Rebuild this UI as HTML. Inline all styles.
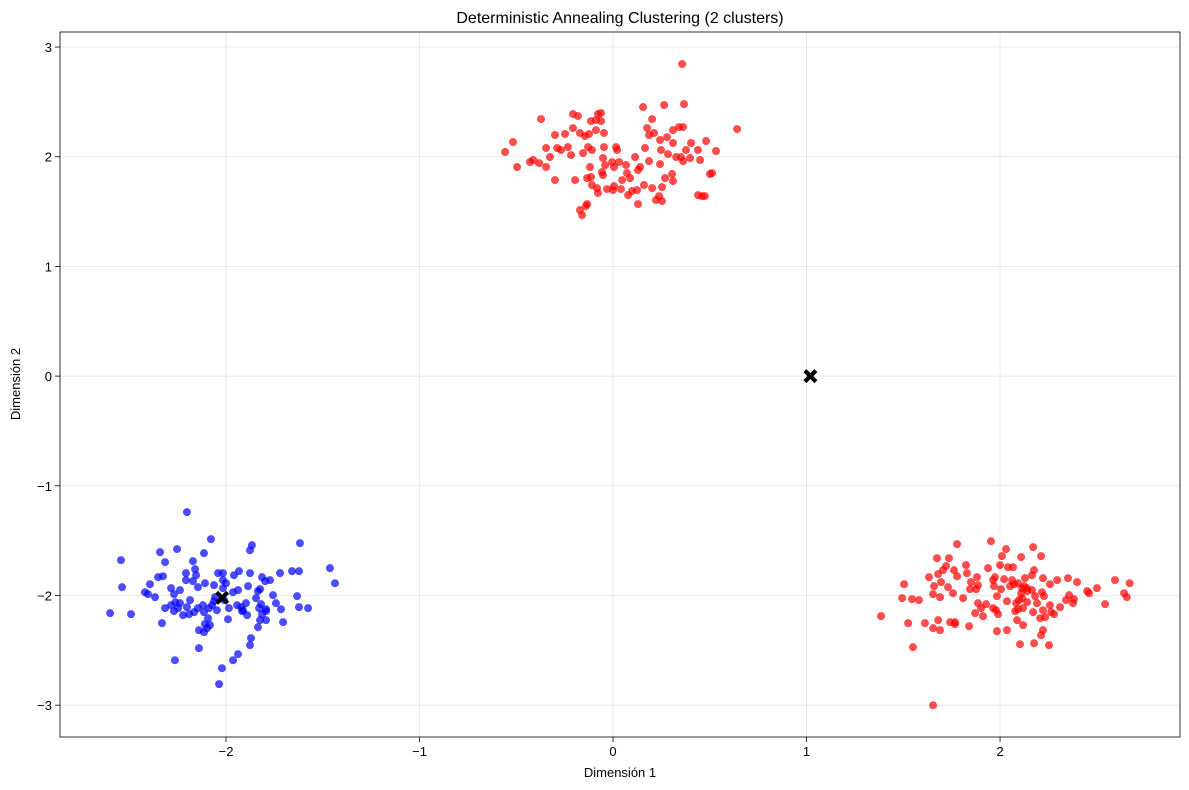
<!DOCTYPE html>
<html><head><meta charset="utf-8"><style>
body{margin:0;background:#fff;}
svg{display:block;font-family:"Liberation Sans",sans-serif;}
</style></head><body>
<svg id="chart" width="1189" height="790">
<rect width="1189" height="790" fill="#fff"/>
<text x="620" y="23" text-anchor="middle" font-size="16">Deterministic Annealing Clustering (2 clusters)</text>
<g id="grid"></g><g id="points"></g><g id="axes"></g>
<text x="620" y="777" text-anchor="middle" font-size="13">Dimensión 1</text>
<text x="20" y="384" text-anchor="middle" font-size="13" transform="rotate(-90 20 384)">Dimensión 2</text>
</svg>
<script>
const xTicks=[-2,-1,0,1,2];
const yTicks=[-3,-2,-1,0,1,2,3];
const redX=[0.357,-0.372,-0.207,-0.181,-0.078,-0.062,0.155,0.264,0.367,0.641,-0.558,-0.517,-0.429,-0.496,-0.346,-0.289,-0.269,-0.248,-0.300,-0.207,-0.171,-0.124,-0.088,-0.062,-0.088,-0.114,-0.047,-0.047,-0.109,-0.129,-0.145,-0.155,-0.217,-0.233,-0.326,-0.382,-0.346,-0.413,-0.300,-0.196,-0.119,-0.114,-0.109,-0.083,-0.052,-0.041,-0.052,-0.005,0.021,0.016,0.005,0.031,0.067,0.072,0.114,0.140,0.186,0.165,0.186,0.176,0.202,0.212,0.243,0.248,0.279,0.284,0.326,0.310,0.310,0.341,0.362,0.351,0.362,0.377,0.403,0.439,0.481,0.501,0.532,0.305,0.310,0.269,0.253,0.238,0.253,0.222,0.202,0.160,0.124,0.098,0.129,0.078,0.041,0.005,0,-0.031,-0.078,-0.134,-0.140,-0.171,-0.160,0.439,0.460,0.475,0.512,-0.134,0.047,0.088,0.129,-0.057,0.243,0.398,0.450,
1.778,1.953,2.031,2.010,2.171,1.674,1.736,1.824,1.721,1.705,1.680,1.633,1.659,1.695,1.762,1.778,1.829,1.881,1.850,1.886,1.974,1.964,2.021,2.062,2.093,2.067,2.109,2.041,2.000,1.938,2.212,2.222,2.165,2.176,2.129,2.072,2.052,2.124,2.165,2.181,2.140,2.140,2.114,2.109,2.217,2.258,2.295,2.351,2.398,2.450,2.501,2.594,2.641,2.670,2.655,2.382,2.341,2.227,2.191,2.222,2.114,2.083,2.036,1.984,2.005,1.969,1.876,1.845,1.809,1.757,1.731,1.690,1.654,1.581,1.545,1.494,1.504,1.385,1.525,1.550,1.612,1.654,1.690,1.767,1.767,1.840,1.871,1.902,1.886,1.928,1.979,1.964,2.078,2.093,2.119,2.088,2.119,2.207,2.264,2.279,2.222,2.176,2.103,2.036,1.984,1.990,2.212,2.253,2.377,2.543,2.460,2.357,2.310,2.098,2.140,2.171,1.742,1.680,1.912,1.654,2.233,2.258];
const redY=[2.845,2.343,2.389,2.371,2.389,2.398,2.453,2.471,2.480,2.252,2.043,2.134,1.951,1.906,2.079,2.079,2.061,2.207,2.198,2.261,2.216,2.207,2.243,2.325,2.334,2.325,2.216,2.088,2.061,2.088,2.188,2.033,2.015,2.088,1.997,1.942,1.906,1.970,1.787,1.787,1.906,1.815,1.742,1.714,1.833,1.924,1.988,1.951,2.061,2.088,1.906,1.951,1.924,1.851,1.997,1.906,1.960,2.079,2.198,2.261,2.343,2.216,2.152,2.061,2.179,2.024,1.997,2.125,2.243,2.270,2.270,1.997,1.960,2.061,2.125,2.061,2.143,1.842,2.052,1.842,1.778,1.805,1.723,1.641,1.596,1.605,1.714,1.742,1.696,1.687,1.568,1.650,1.705,1.732,1.696,1.705,1.669,1.568,1.550,1.514,1.468,1.650,1.641,1.641,1.851,1.805,1.787,1.805,1.878,1.860,1.933,1.988,1.970,
-1.532,-1.505,-1.577,-1.641,-1.559,-1.660,-1.660,-1.723,-1.732,-1.769,-1.805,-1.833,-1.915,-1.878,-1.769,-1.824,-1.796,-1.833,-1.878,-1.906,-1.833,-1.860,-1.851,-1.860,-1.888,-1.742,-1.650,-1.742,-1.723,-1.751,-1.641,-1.842,-1.815,-1.769,-1.842,-1.897,-1.915,-1.915,-1.951,-2.006,-1.960,-1.933,-1.933,-1.979,-1.970,-1.897,-1.860,-1.842,-1.878,-1.960,-1.933,-1.860,-1.979,-1.888,-2.015,-2.033,-2.042,-2.006,-2.070,-2.134,-2.024,-2.070,-2.052,-2.006,-1.942,-1.915,-1.942,-1.942,-2.024,-1.979,-1.924,-2.015,-1.988,-2.042,-2.033,-2.024,-1.897,-2.188,-2.252,-2.471,-2.252,-2.298,-2.316,-2.261,-2.243,-2.280,-2.161,-2.115,-2.070,-2.079,-2.134,-2.115,-2.143,-2.125,-2.115,-2.225,-2.270,-2.207,-2.152,-2.170,-2.316,-2.435,-2.444,-2.316,-2.325,-2.170,-2.362,-2.453,-2.070,-2.079,-1.980,-1.997,-2.106,-2.042,-2.061,-2.152,-2.243,-2.225,-2.188,-3.000,-2.198,-2.088];
const blueX=[-2.202,-2.078,-2.341,-2.253,-2.543,-2.315,-2.114,-2.171,-1.866,-1.876,-1.618,-1.463,-1.437,-1.659,-1.623,-1.721,-1.798,-1.814,-1.876,-1.933,-1.959,-2.016,-2.041,-2.016,-2.016,-2.000,-1.886,-1.835,-1.824,-1.773,-1.757,-1.819,-1.742,-1.793,-1.829,-1.845,-1.897,-1.938,-1.964,-2.062,-2.109,-2.145,-2.171,-2.207,-2.160,-2.155,-2.207,-2.238,-2.269,-2.284,-2.326,-2.351,-2.393,-2.419,-2.403,-2.367,-2.315,-2.284,-2.269,-2.248,-2.238,-2.202,-2.191,-2.145,-2.119,-2.114,-2.088,-2.072,-2.062,-2.057,-2.010,-1.985,-1.943,-1.922,-1.912,-1.891,-1.814,-1.793,-1.716,-1.633,-1.623,-1.576,-1.705,-1.793,-1.824,-1.835,-1.871,-1.876,-1.938,-1.964,-2.021,-2.036,-2.264,-2.140,-2.098,-2.114,-2.140,-2.109,-2.093,-2.047,-1.990,-1.917,-2.537,-2.599,-2.491,-2.331,-2.222,-2.165,-2.186,-2.262,-2.083];
const blueY=[-1.240,-1.486,-1.605,-1.577,-1.678,-1.696,-1.614,-1.687,-1.541,-1.587,-1.523,-1.751,-1.888,-1.778,-1.778,-1.796,-1.869,-1.833,-1.796,-1.778,-1.815,-1.796,-1.796,-1.860,-1.933,-1.888,-1.915,-1.960,-1.942,-1.860,-1.997,-2.079,-2.070,-2.125,-2.115,-2.024,-2.070,-1.951,-1.970,-1.906,-1.888,-1.924,-1.869,-1.796,-1.760,-1.815,-1.860,-1.951,-1.988,-1.933,-1.824,-1.833,-1.897,-1.970,-1.988,-2.015,-2.115,-2.088,-2.143,-2.115,-2.070,-2.106,-2.170,-2.115,-2.088,-2.152,-2.115,-2.088,-2.052,-2.015,-2.042,-2.115,-2.088,-2.106,-2.134,-2.179,-2.170,-2.143,-2.125,-2.006,-2.106,-2.115,-2.243,-2.225,-2.225,-2.289,-2.389,-2.453,-2.535,-2.590,-2.663,-2.808,-2.590,-2.480,-2.298,-2.334,-2.316,-2.261,-2.207,-2.134,-2.216,-2.143,-1.924,-2.161,-2.170,-2.252,-2.179,-2.152,-2.042,-2.061,-2.270];
const centroidX=[-2.02,1.02];
const centroidY=[-2.02,0.0];

const L=60,R=1180,T=32,B=737,xMin=-2.858,xMax=2.930,yMin=-3.29,yMax=3.137;
const sx=v=>L+(v-xMin)/(xMax-xMin)*(R-L);
const sy=v=>B-(v-yMin)/(yMax-yMin)*(B-T);
const NS="http://www.w3.org/2000/svg";
function mk(tag,attrs,parent){const e=document.createElementNS(NS,tag);for(const k in attrs)e.setAttribute(k,attrs[k]);parent.appendChild(e);return e;}
const grid=document.getElementById('grid'),pts=document.getElementById('points'),axes=document.getElementById('axes');
const fmt=v=>(v<0?'\u2212':'')+Math.abs(v);
xTicks.forEach(v=>{const x=sx(v);
 const g=mk('line',{x1:x,x2:x,y1:T,y2:B,stroke:'#000','stroke-opacity':0.1,'stroke-width':0.8},grid);
 
 
 mk('line',{x1:x,x2:x,y1:B,y2:B+5,stroke:'#000','stroke-width':0.8},axes);
 const t=mk('text',{x:x,y:B+19,'text-anchor':'middle','font-size':13},axes);t.textContent=fmt(v);
 
 });
yTicks.forEach(v=>{const y=sy(v);
 const g=mk('line',{x1:L,x2:R,y1:y,y2:y,stroke:'#000','stroke-opacity':0.1,'stroke-width':0.8},grid);
 
 
 mk('line',{x1:L-5,x2:L,y1:y,y2:y,stroke:'#000','stroke-width':0.8},axes);
 const t=mk('text',{x:L-8,y:y+5,'text-anchor':'end','font-size':13},axes);t.textContent=fmt(v);
 
 });
const fr=mk('rect',{x:L,y:T,width:R-L,height:B-T,fill:'none',stroke:'#000','stroke-width':0.8},axes);


redX.forEach((v,i)=>{const c=mk('circle',{cx:sx(v),cy:sy(redY[i]),r:4,fill:'#ff0000','fill-opacity':0.7},pts);
 
 });
blueX.forEach((v,i)=>{const c=mk('circle',{cx:sx(v),cy:sy(blueY[i]),r:4,fill:'#0000ff','fill-opacity':0.7},pts);
 
 });
centroidX.forEach((v,i)=>{const x=sx(v),y=sy(centroidY[i]);
 const p=mk('path',{d:`M${x-7} ${y-4}L${x-4} ${y-7}L${x} ${y-3}L${x+4} ${y-7}L${x+7} ${y-4}L${x+3} ${y}L${x+7} ${y+4}L${x+4} ${y+7}L${x} ${y+3}L${x-4} ${y+7}L${x-7} ${y+4}L${x-3} ${y}Z`,fill:'#000'},pts);
 
 });
</script>
</body></html>
